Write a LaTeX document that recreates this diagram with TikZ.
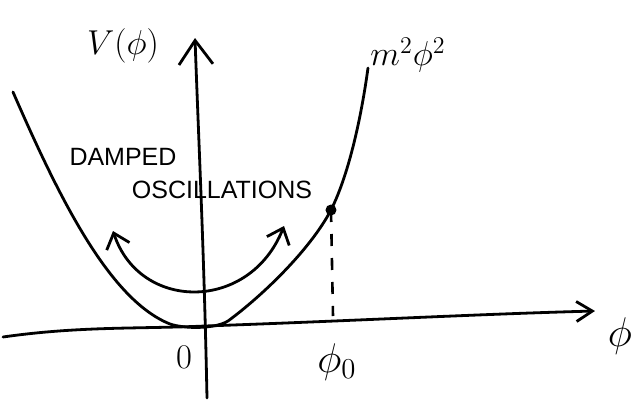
\documentclass[tikz,border=0pt]{standalone}
\usepackage{fontspec}
\setsansfont{Liberation Sans}
\usetikzlibrary{arrows.meta}
\begin{document}
\begin{tikzpicture}[x=0.5pt,y=-0.5pt,line width=1.4pt,line cap=round,line join=round,
  axisline/.style={line width=1.4pt},
  curveline/.style={line width=1.4pt},
  label/.style={inner sep=0pt,font=\fontsize{18}{20}\selectfont},
  words/.style={inner sep=0pt,font=\sffamily\fontsize{12.5}{14}\selectfont},
  bigphi/.style={inner sep=0pt,font=\fontsize{22}{24}\selectfont}]
\useasboundingbox (0,0) rectangle (634,403);
% coordinates
\coordinate (ybot) at (207,398);
\coordinate (ytop) at (195,38);
\coordinate (xleft) at (3,337);
\coordinate (orig) at (205,326);
\coordinate (xright) at (595,311);
\coordinate (phi0pt) at (331,210);
\coordinate (phi0ax) at (333,316);
\coordinate (oscL) at (113,231);
\coordinate (oscR) at (284,226);
% axes
\draw[axisline,-{Straight Barb[length=12pt,width=17pt,line width=1.4pt]}] (ybot) .. controls (204,250) and (199,150) .. (ytop);
\draw[axisline,-{Straight Barb[length=8pt,width=10pt,line width=1.4pt]}] (xleft) .. controls (80,326) and (140,329) .. (orig) .. controls (350,321) and (480,314) .. (xright);
% parabola
\draw[curveline] (13,92) .. controls (60,200) and (110,300) .. (170,324)
  .. controls (185,329) and (215,329) .. (228,321)
  .. controls (262,296) and (310,250) .. (phi0pt)
  .. controls (350,172) and (362,112) .. (368,68);
% point and dashed drop
\fill (phi0pt) circle (5.5);
\draw[line width=1.3pt,dash pattern=on 6pt off 6pt,line cap=butt] (phi0pt) -- (phi0ax);
% oscillation arrow
\draw[curveline,{Straight Barb[length=7pt,width=12pt,line width=1.4pt]}-{Straight Barb[length=7pt,width=12pt,line width=1.4pt]}] (oscL) .. controls (140,312) and (250,312) .. (oscR);
% labels
\node[label] (vlab) at (123,46) {$V(\phi)$};
\node[label] (mlab) at (408,55) {$m^2\phi^2$};
\node[words] (damped) at (123,157) {DAMPED};
\node[words] (osc) at (222,190) {OSCILLATIONS};
\node[label] (zero) at (184,357) {$0$};
\node[bigphi] (phi0lab) at (337,362) {$\phi_0$};
\node[bigphi] (philab) at (620,336) {$\phi$};
\end{tikzpicture}
\end{document}
